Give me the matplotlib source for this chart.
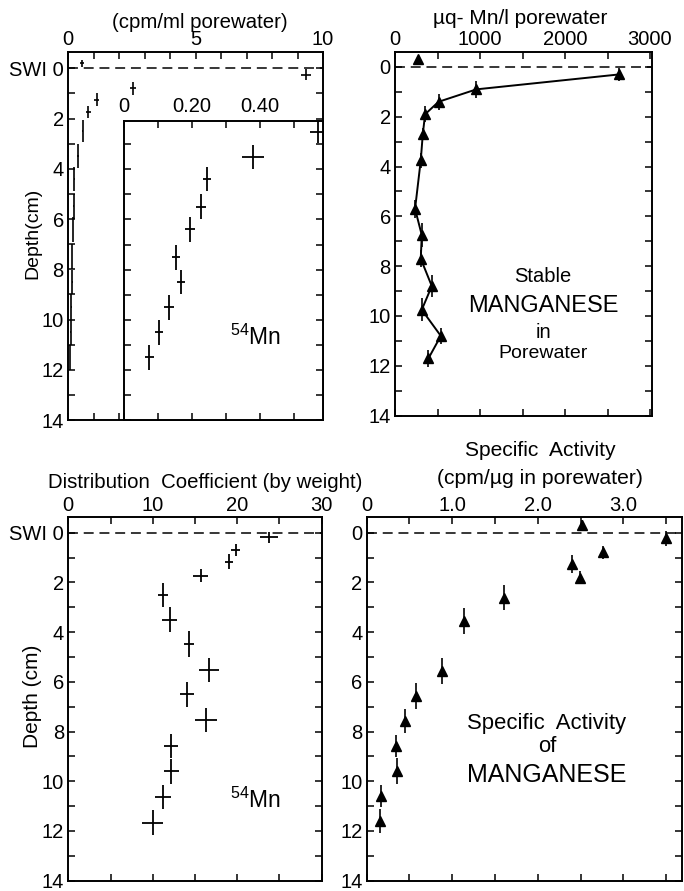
## Manganese in porewater: 54Mn, stable Mn, Kd and specific activity vs depth

import numpy as np
import matplotlib
matplotlib.use("Agg")
import matplotlib.pyplot as plt
from matplotlib.ticker import MultipleLocator, FixedLocator, FixedFormatter

plt.rcParams['font.family'] = ['Liberation Sans', 'DejaVu Sans']
plt.rcParams['mathtext.default'] = 'regular'

# 54Mn activity (cpm/ml porewater)
mn54_depth = [-0.2, 0.25, 0.8, 1.25, 1.75, 2.5, 3.5, 4.4, 5.5, 6.4, 7.5, 8.5, 9.5, 10.5, 11.5]
mn54_act = [0.55, 9.33, 2.55, 1.13, 0.8, 0.57, 0.38, 0.245, 0.227, 0.196, 0.155, 0.169, 0.133, 0.104, 0.076]
mn54_derr = [0.15, 0.23, 0.26, 0.26, 0.24, 0.45, 0.48, 0.48, 0.5, 0.5, 0.5, 0.49, 0.5, 0.5, 0.49]
mn54_xerr = [0.07, 0.2, 0.1, 0.1, 0.11, 0.022, 0.033, 0.012, 0.015, 0.015, 0.012, 0.012, 0.014, 0.013, 0.013]

# stable Mn (ug/l porewater); first value is the overlying water
mn_depth = [-0.3, 0.3, 0.9, 1.4, 1.9, 2.7, 3.75, 5.7, 6.75, 7.7, 8.8, 9.75, 10.8, 11.7]
mn_conc = [268, 2638, 957, 512, 354, 327, 303, 236, 315, 303, 433, 315, 539, 394]
mn_derr = [0.0, 0.27, 0.35, 0.33, 0.33, 0.25, 0.3, 0.37, 0.5, 0.33, 0.43, 0.47, 0.33, 0.33]

# distribution coefficient (by weight)
kd_depth = [0.19, 0.7, 1.17, 1.73, 2.5, 3.5, 4.48, 5.52, 6.5, 7.53, 8.58, 9.6, 10.64, 11.66]
kd = [23.8, 19.8, 19.05, 15.7, 11.25, 12.0, 14.3, 16.7, 14.0, 16.26, 12.2, 12.2, 11.2, 10.0]
kd_xerr = [1.08, 0.5, 0.47, 0.89, 0.6, 0.87, 0.63, 1.18, 0.83, 1.3, 0.83, 0.87, 0.92, 1.22]
kd_derr = [0.21, 0.23, 0.31, 0.27, 0.47, 0.5, 0.53, 0.47, 0.5, 0.47, 0.5, 0.5, 0.49, 0.5]

# specific activity (cpm/ug)
sa_depth = [-0.31, 0.23, 0.79, 1.26, 1.81, 2.61, 3.54, 5.55, 6.57, 7.58, 8.58, 9.59, 10.59, 11.6]
sa = [2.51, 3.50, 2.76, 2.40, 2.49, 1.60, 1.14, 0.88, 0.576, 0.447, 0.339, 0.358, 0.167, 0.156]
sa_derr = [0.2, 0.3, 0.27, 0.35, 0.27, 0.5, 0.52, 0.52, 0.53, 0.49, 0.45, 0.53, 0.43, 0.49]

depth_ticks = list(range(0, 15, 2))
W, H = 684, 891
TS = 14.5


def px_axes(x0, y0, x1, y1):
    # pixel box (top-left origin) -> figure fraction
    return [x0 / W, 1 - y1 / H, (x1 - x0) / W, (y1 - y0) / H]


def ftext(x, y, s, **kw):
    kw.setdefault('ha', 'center')
    kw.setdefault('va', 'center')
    kw.setdefault('fontsize', TS)
    fig.text(x / W, 1 - y / H, s, **kw)


def style(ax, xmaj, xlabels, xminor, ylims, swi=True, ylabels=True):
    for s in ax.spines.values():
        s.set_linewidth(1.4)
    ax.xaxis.set_major_locator(FixedLocator(xmaj))
    ax.xaxis.set_major_formatter(FixedFormatter(xlabels))
    ax.xaxis.set_minor_locator(MultipleLocator(xminor))
    ax.yaxis.set_major_locator(FixedLocator(depth_ticks))
    if ylabels:
        labs = [str(d) for d in depth_ticks]
        if swi:
            labs[0] = 'SWI 0'
        ax.yaxis.set_major_formatter(FixedFormatter(labs))
    ax.yaxis.set_minor_locator(MultipleLocator(1))
    ax.tick_params(which='both', direction='in', length=5, width=1.1,
                   top=True, bottom=True, left=True, right=True,
                   labeltop=True, labelbottom=False, labelleft=ylabels,
                   labelsize=TS)
    ax.tick_params(axis='x', pad=2)
    ax.tick_params(axis='y', pad=3)
    ax.set_ylim(*ylims)


def swi_line(ax):
    ax.axhline(0, color='black', lw=1.1, ls=(0, (6.5, 3.8)), zorder=1)


fig = plt.figure(figsize=(W / 100, H / 100), dpi=100)

# --- top left: 54Mn activity ---
ax1 = fig.add_axes(px_axes(68, 52, 323, 420))
ax1.set_xlim(0, 10)
style(ax1, [0, 5, 10], ['0', '5', '10'], 1, (14, -0.65))
swi_line(ax1)
ax1.errorbar(mn54_act, mn54_depth, xerr=mn54_xerr, yerr=mn54_derr, fmt='none',
             ecolor='black', elinewidth=1.2, capsize=0)

# inset, expanded scale
ins = fig.add_axes(px_axes(123.5, 120.7, 323, 420))
ins.set_facecolor('white')
ins.set_xlim(0, 0.585)
style(ins, [0, 0.2, 0.4], ['0', '0.20', '0.40'], 0.1, (14, 2.06), ylabels=False)
ins.tick_params(axis='x', pad=3.5)
deep = [i for i, d in enumerate(mn54_depth) if d >= 2.5]
ins.errorbar([mn54_act[i] for i in deep], [mn54_depth[i] for i in deep],
             xerr=[mn54_xerr[i] for i in deep], yerr=[mn54_derr[i] for i in deep],
             fmt='none', ecolor='black', elinewidth=1.3, capsize=0)
ftext(255, 337, '$^{54}$Mn', fontsize=16.5)

ftext(200, 22, '(cpm/ml porewater)', fontsize=14.7)
ftext(33, 233, 'Depth(cm)', rotation=90, fontsize=14)

# --- top right: stable Mn ---
ax2 = fig.add_axes(px_axes(395, 52, 651.7, 415.6))
ax2.set_xlim(0, 3020)
style(ax2, [0, 1000, 2000, 3000], ['0', '1000', '2000', '3000'], 500, (14, -0.6), swi=False)
swi_line(ax2)
ax2.plot(mn_conc[1:], mn_depth[1:], color='black', lw=1.4, zorder=2)
ax2.errorbar(mn_conc, mn_depth, yerr=mn_derr, fmt='^', color='black', ms=7.5,
             ecolor='black', elinewidth=1.2, capsize=0, zorder=3)
ftext(520, 19, 'µq- Mn/l porewater', fontsize=15)
ftext(543, 277, 'Stable', fontsize=14.5)
ftext(543, 306, 'MANGANESE', fontsize=17)
ftext(543, 332, 'in', fontsize=14.5)
ftext(543, 354, 'Porewater', fontsize=14)

# --- bottom left: distribution coefficient ---
ax3 = fig.add_axes(px_axes(68.3, 517.3, 321.7, 880.7))
ax3.set_xlim(0, 30)
style(ax3, [0, 10, 20, 30], ['0', '10', '20', '30'], 5, (14, -0.62))
swi_line(ax3)
ax3.errorbar(kd, kd_depth, xerr=kd_xerr, yerr=kd_derr, fmt='none',
             ecolor='black', elinewidth=1.3, capsize=0)
ftext(205, 482, 'Distribution  Coefficient (by weight)', fontsize=14.7)
ftext(32, 696, 'Depth (cm)', rotation=90, fontsize=15)
ftext(255, 800, '$^{54}$Mn', fontsize=16.5)

# --- bottom right: specific activity ---
ax4 = fig.add_axes(px_axes(366.7, 517.3, 681.7, 880.7))
ax4.set_xlim(0, 3.68)
style(ax4, [0, 1, 2, 3], ['0', '1.0', '2.0', '3.0'], 0.5, (14, -0.62), swi=False)
swi_line(ax4)
ax4.errorbar(sa, sa_depth, yerr=sa_derr, fmt='^', color='black', ms=7.5,
             ecolor='black', elinewidth=1.2, capsize=0, zorder=3)
ftext(540, 451, 'Specific  Activity', fontsize=15.1)
ftext(540, 479, '(cpm/µg in porewater)', fontsize=15.2)
ftext(547, 723, 'Specific  Activity', fontsize=15.9)
ftext(547, 747, 'of', fontsize=15.9)
ftext(547, 775, 'MANGANESE', fontsize=18)

fig.savefig('out.png', dpi=100)
